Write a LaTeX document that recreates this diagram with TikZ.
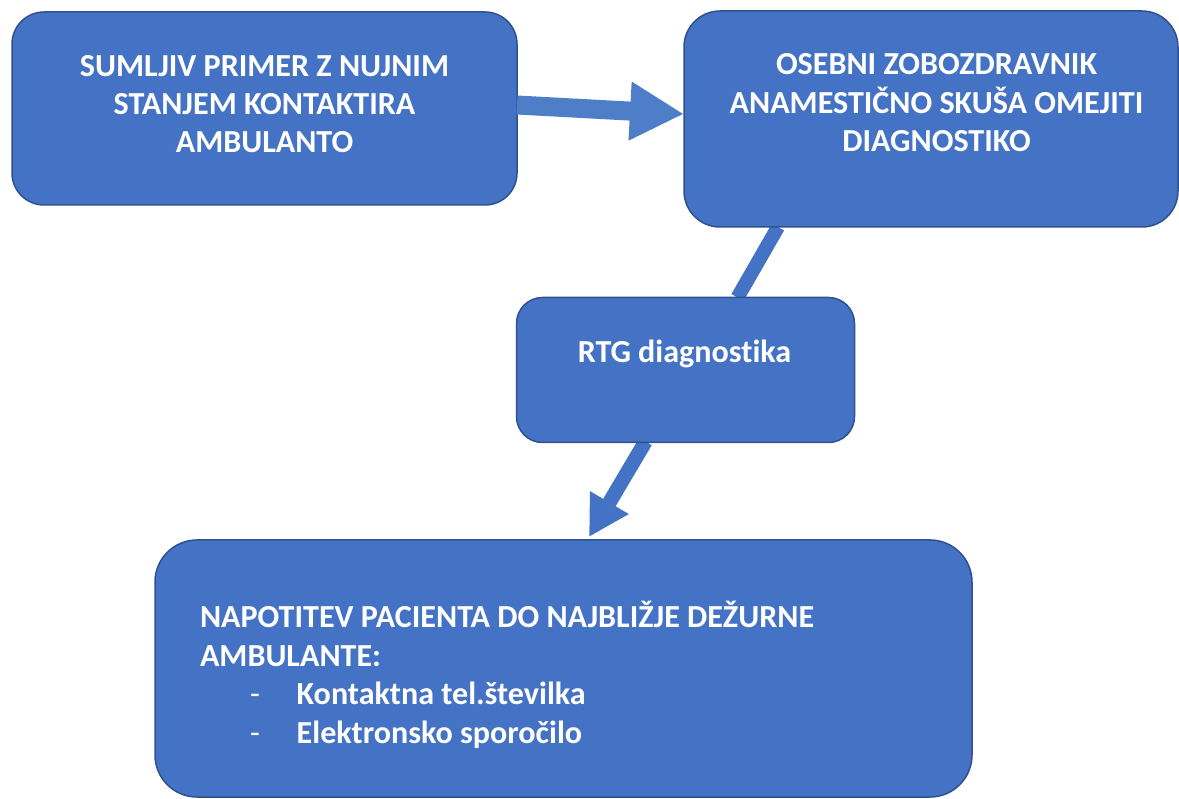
\documentclass[tikz,border=0pt]{standalone}
\usepackage{fontspec}
\setmainfont{Carlito}[Ligatures={NoCommon,NoContextual}]
\usetikzlibrary{arrows.meta,calc,backgrounds}
\definecolor{boxfill}{HTML}{4472C4}
\definecolor{boxline}{HTML}{2F528F}
\definecolor{arrowlight}{HTML}{4E7EC8}
\tikzset{
  flowbox/.style={draw=boxline, fill=boxfill, line width=1.5pt, inner sep=0pt, outer sep=0pt},
  boxtext/.style={text=white, inner sep=0pt, outer sep=0pt, font=\fontsize{32.1}{38.4}\selectfont\bfseries},
  blockarrow/.style={line width=19pt, arrowlight, -{Triangle[length=54pt,width=55pt]}},
  thinarrow/.style={line width=14.5pt, boxfill, -{Triangle[length=40pt,width=42pt]}},
  plainlink/.style={line width=14pt, boxfill}
}
\begin{document}
\begin{tikzpicture}[x=1pt,y=-1pt]
\useasboundingbox (0,0) rectangle (1179,799);
\path (264.5,108.5) node[flowbox, minimum width=505pt, minimum height=193pt, rounded corners=32pt] (A) {};
\path (931,119) node[flowbox, minimum width=494pt, minimum height=216pt, rounded corners=36pt] (B) {};
\path (685.5,370) node[flowbox, minimum width=338pt, minimum height=145pt, rounded corners=26pt] (C) {};
\path (563.5,668.5) node[flowbox, minimum width=817pt, minimum height=257pt, rounded corners=42pt] (D) {};
\coordinate (ab1) at ($(A.east)+(0,-3.5)$);
\coordinate (ab2) at ($(B.west)+(0,-5)$);
\coordinate (bc1) at ($(B.south)+(-153,0)$);
\coordinate (bc2) at ($(C.north)+(52,0)$);
\coordinate (cd1) at ($(C.south)+(-40,-1)$);
\coordinate (cd2) at ($(D.north)+(25.5,-3)$);
\begin{scope}[on background layer]
\draw[plainlink] (bc1) -- (bc2);
\draw[thinarrow] (cd1) -- (cd2);
\end{scope}
\draw[blockarrow] (ab1) -- (ab2);
\node[boxtext, align=center, anchor=base] (ta) at ($(A.north)+(0,141)$) {SUMLJIV PRIMER Z NUJNIM\\STANJEM KONTAKTIRA\\AMBULANTO};
\node[boxtext, align=center, anchor=base] (tb) at ($(B.north)+(5.5,140.7)$) {OSEBNI ZOBOZDRAVNIK\\ANAMESTIČNO SKUŠA OMEJITI\\DIAGNOSTIKO};
\node[boxtext, anchor=base] (tc) at ($(C.north)+(-1,65.5)$) {RTG diagnostika};
\node[boxtext, align=left, anchor=base west] (td) at ($(D.north west)+(45,203)$) {NAPOTITEV PACIENTA DO NAJBLIŽJE DEŽURNE\\AMBULANTE:\\\hspace*{50pt}\makebox[0pt][l]{\mdseries -}\hspace*{46.7pt}Kontaktna tel.številka\\\hspace*{50pt}\makebox[0pt][l]{\mdseries -}\hspace*{46.7pt}Elektronsko sporočilo};
\end{tikzpicture}
\end{document}
